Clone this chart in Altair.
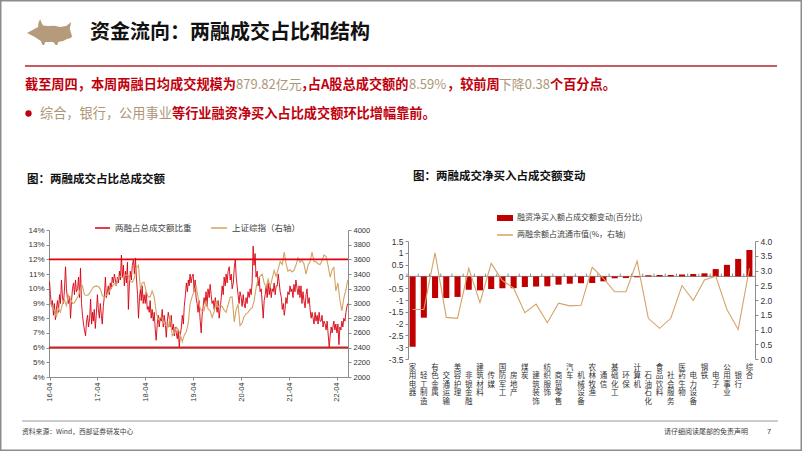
import altair as alt
import pandas as pd

# ---------------- 左图：两融占总成交额比重 (%)，每月4个读数 ----------------
red_2016 = [10.5, 9.6, 8.8, 9.2, 8.2, 9.0, 7.9, 8.6, 9.2, 8.4, 9.6, 9.0,
            10.6, 9.5, 9.0, 9.8, 11.5, 10.0, 9.3, 9.0, 9.5, 8.0, 9.2, 10.0,
            10.4, 9.6, 10.6, 9.8, 10.0, 10.8, 9.4, 11.4, 9.0, 8.2, 7.6, 7.2]
red_2017 = [6.8, 7.8, 8.2, 7.4, 8.0, 9.3, 7.6, 8.4, 7.8, 8.6, 7.3, 8.2,
            9.6, 8.6, 8.0, 9.0, 8.2, 7.6, 8.8, 9.4, 10.8, 9.4, 9.8, 10.2,
            9.6, 10.4, 10.0, 10.8, 10.4, 11.0, 10.6, 10.2, 10.8, 10.4, 11.2, 10.6,
            12.3, 10.8, 11.6, 10.2, 11.2, 10.4, 11.8, 8.6, 10.4, 11.2, 10.6, 11.6]
red_2018 = [12.0, 11.0, 12.1, 10.8, 9.6, 8.0, 9.4, 10.0, 9.2, 10.2, 9.0, 9.6,
            9.0, 9.8, 8.6, 8.8, 8.4, 9.2, 8.0, 8.6, 7.8, 8.4, 7.2, 6.5,
            7.6, 8.2, 7.4, 8.0, 7.8, 8.6, 7.4, 8.2, 7.6, 6.7, 7.8, 8.4,
            8.0, 7.4, 8.2, 7.2, 7.6, 6.8, 7.4, 7.0, 6.6, 7.2, 6.0, 6.8]
red_2019 = [7.4, 8.2, 7.6, 8.8, 9.6, 10.4, 9.8, 10.6, 10.2, 11.0, 10.4, 10.8,
            11.0, 9.8, 10.6, 9.4, 9.0, 8.4, 9.2, 8.0, 7.0, 8.2, 8.8, 9.4,
            9.0, 9.8, 8.8, 10.0, 9.4, 10.3, 9.6, 9.0, 9.2, 8.6, 9.4, 8.8,
            8.4, 9.2, 8.0, 8.6, 9.4, 10.2, 9.6, 10.8, 10.2, 11.0, 10.4, 11.2]
red_2020 = [11.5, 10.6, 11.0, 10.0, 10.4, 11.4, 12.0, 10.8, 10.2, 9.6, 9.0, 9.8,
            9.4, 8.8, 9.6, 9.0, 8.7, 9.4, 9.0, 9.8, 9.4, 10.0, 9.6, 10.4,
            12.9, 11.6, 12.4, 10.8, 11.2, 10.2, 10.8, 9.8, 10.0, 9.0, 8.0, 9.2,
            9.6, 10.2, 9.4, 10.4, 9.6, 10.2, 9.4, 10.0, 9.8, 10.4, 9.6, 10.2]
red_2021 = [10.2, 11.0, 10.4, 9.8, 9.4, 8.6, 9.0, 8.2, 8.6, 9.4, 9.0, 9.8,
            9.6, 10.2, 9.8, 10.0, 9.4, 10.3, 9.8, 10.6, 10.0, 9.6, 10.2, 9.4,
            10.2, 9.0, 9.8, 9.2, 8.7, 9.6, 10.0, 9.0, 9.4, 8.6, 8.0, 8.4,
            8.0, 7.6, 8.4, 7.8, 8.2, 7.6, 8.4, 7.8, 7.8, 8.2, 7.4, 7.8]
red_2022 = [7.6, 7.2, 7.8, 7.0, 6.0, 6.8, 7.4, 7.0, 7.4, 7.8, 7.2, 7.6,
            7.0, 7.6, 6.2, 7.4, 7.2, 7.8, 7.4, 8.0, 7.8, 8.4, 8.8, 9.0]

# 上证综指（右轴），每月2个读数
sse_2016 = [3010, 2950, 2910, 2810, 2930, 2880, 2990, 3050, 2970, 3110,
            3060, 3000, 3010, 3060, 3110, 3200, 3240, 3120]
sse_2017 = [3110, 3120, 3160, 3210, 3230, 3240, 3230, 3200, 3110, 3080, 3110, 3140,
            3190, 3230, 3270, 3250, 3360, 3370, 3350, 3380, 3390, 3380, 3300, 3290]
sse_2018 = [3350, 3480, 3520, 3190, 3280, 3290, 3160, 3090, 3090, 3170, 3090, 2880,
            2780, 2810, 2800, 2720, 2700, 2680, 2820, 2560, 2600, 2680, 2650, 2580]
sse_2019 = [2480, 2570, 2620, 2740, 2990, 3090, 3170, 3250, 3080, 2940, 2890, 2900,
            3040, 2930, 2900, 2810, 2890, 3030, 2950, 2980, 2960, 2910, 2880, 2980]
sse_2020 = [3085, 3090, 2750, 2920, 2990, 2700, 2735, 2820, 2860, 2880, 2920, 2940,
            3030, 3210, 3340, 3370, 3400, 3280, 3220, 3330, 3230, 3340, 3450, 3370]
sse_2021 = [3470, 3570, 3530, 3700, 3550, 3440, 3460, 3430, 3450, 3520, 3620, 3560,
            3590, 3540, 3400, 3520, 3570, 3700, 3570, 3570, 3540, 3530, 3580, 3660]
sse_2022 = [3640, 3520, 3360, 3460, 3490, 3170, 3280, 3050, 2900, 3070, 3190, 3320]

# ---------------- 右图：行业 ----------------
industries = ['家用电器', '轻工制造', '有色金属', '交通运输', '美容护理', '非银金融', '建筑材料',
              '传媒', '国防军工', '房地产', '煤炭', '建筑装饰', '纺织服饰', '商贸零售', '汽车',
              '机械设备', '农林牧渔', '通信', '基础化工', '环保', '计算机', '石油石化', '食品饮料',
              '社会服务', '医药生物', '电力设备', '钢铁', '电子', '公用事业', '银行', '综合']
net_buy_change = [-2.98, -1.75, -0.92, -0.91, -0.87, -0.57, -0.59, -0.53, -0.50, -0.50, -0.45,
                  -0.43, -0.42, -0.35, -0.31, -0.29, -0.28, -0.21, -0.08, -0.07, -0.04, 0.05,
                  0.06, 0.06, 0.08, 0.10, 0.13, 0.31, 0.49, 0.74, 1.12]
margin_to_mktcap = [1.68, 1.68, 3.60, 1.41, 1.38, 3.07, 1.91, 3.24, 2.66, 2.40, 1.57, 1.86,
                    1.23, 1.89, 1.80, 1.82, 3.11, 2.73, 2.28, 2.28, 3.32, 1.38, 1.04, 1.38,
                    2.49, 1.98, 2.68, 2.81, 1.68, 1.00, 3.07]

# ---------------- tables ----------------
red_share = red_2016 + red_2017 + red_2018 + red_2019 + red_2020 + red_2021 + red_2022
sse = sse_2016 + sse_2017 + sse_2018 + sse_2019 + sse_2020 + sse_2021 + sse_2022
months = pd.period_range('2016-04', '2022-06', freq='M')
red_dates = [pd.Timestamp(year=p.year, month=p.month, day=d) for p in months for d in (1, 8, 16, 23)]
sse_dates = [pd.Timestamp(year=p.year, month=p.month, day=d) for p in months for d in (8, 23)]
df_red = pd.DataFrame({'date': red_dates, 'share': [v / 100 for v in red_share]})
df_sse = pd.DataFrame({'date': sse_dates, 'sse': sse})
df_bar = pd.DataFrame({'industry': industries, 'chg': net_buy_change,
                       'ratio': margin_to_mktcap, 'idx': list(range(len(industries)))})
df_ref12 = pd.DataFrame({'level': [0.12]})
df_ref6 = pd.DataFrame({'level': [0.06]})
ONE = pd.DataFrame({'k': [0]})

# ---------------- style / layout ----------------
W, H = 802, 451
CJK = 'Noto Sans CJK SC'
NUM = 'Liberation Sans'
RED = '#d7000f'
TAN = '#d3a466'
BAR = '#c00000'
HRED = '#c0000c'
HTAN = '#ad9778'
GRAY = '#8c8c8c'
LAB = '#333333'

LX0, LX1, LYT, LYB = 49, 348, 230, 377
RX0, RX1, RYT, RYB = 408, 755, 241, 359

x_time = alt.Scale(domain=[alt.DateTime(year=2016, month=3, date=28),
                           alt.DateTime(year=2022, month=6, date=24)],
                   range=[LX0, LX1], nice=False)
y_share = alt.Scale(domain=[0.04, 0.14], range=[LYB, LYT], nice=False, zero=False)
y_sse = alt.Scale(domain=[2000, 4000], range=[LYB, LYT], nice=False, zero=False)
x_cat = alt.Scale(domain=industries, range=[RX0 - 1, RX1], paddingInner=0.46, paddingOuter=0.23)
y_chg = alt.Scale(domain=[-3.5, 1.5], range=[RYB, RYT], nice=False, zero=False)
y_ratio = alt.Scale(domain=[0, 4], range=[RYB, RYT], nice=False, zero=False)

axis_common = dict(grid=False, title=None, domainColor=GRAY, tickColor=GRAY, tickSize=3,
                   labelColor=LAB, labelFont=NUM, labelPadding=2)


def txt(s, x, y, size, color, bold=False, align='left', baseline='middle', font=CJK):
    return alt.Chart(ONE).mark_text(
        text=s, align=align, baseline=baseline, fontSize=size, font=font,
        fontWeight='bold' if bold else 'normal', color=color
    ).encode(x=alt.value(x), y=alt.value(y))


def hline(x1, x2, y, color, width):
    return alt.Chart(ONE).mark_rule(color=color, strokeWidth=width).encode(
        x=alt.value(x1), x2=alt.value(x2), y=alt.value(y))


# ---------------- left chart ----------------
red_line = alt.Chart(df_red).mark_line(color=RED, strokeWidth=0.9).encode(
    x=alt.X('date:T', scale=x_time,
            axis=alt.Axis(orient='bottom', offset=LYB - H, format='%y-%m', labelAngle=-90,
                          values=[alt.DateTime(year=y, month=4, date=1) for y in range(2016, 2023)],
                          labelFontSize=7.5, **axis_common)),
    y=alt.Y('share:Q', scale=y_share,
            axis=alt.Axis(orient='left', offset=-LX0, format='.0%',
                          values=[v / 100 for v in range(4, 15)], labelFontSize=8, **axis_common)),
)
tan_line = alt.Chart(df_sse).mark_line(color=TAN, strokeWidth=1.1).encode(
    x=alt.X('date:T', scale=x_time, axis=None),
    y=alt.Y('sse:Q', scale=y_sse,
            axis=alt.Axis(orient='right', offset=LX1 - W, format='d',
                          values=list(range(2000, 4001, 200)), labelFontSize=7.5, **axis_common)),
)
ref12 = alt.Chart(df_ref12).mark_rule(color='#e3000f', strokeWidth=1.6).encode(
    y=alt.Y('level:Q', scale=y_share, axis=None), x=alt.value(LX0), x2=alt.value(LX1))
ref6 = alt.Chart(df_ref6).mark_rule(color='#c0282d', strokeWidth=2.4).encode(
    y=alt.Y('level:Q', scale=y_share, axis=None), x=alt.value(LX0), x2=alt.value(LX1))

# ---------------- right chart ----------------
stack_expr = "split((round(datum.index*30)%2==1 ? '\u3000' : '') + datum.label, '')"
bars = alt.Chart(df_bar).mark_bar(color=BAR).encode(
    x=alt.X('industry:N', scale=x_cat, sort=None,
            axis=alt.Axis(orient='bottom', offset=RYB - H, domain=False, ticks=False, labelAngle=0,
                          labelExpr=stack_expr, labelBaseline='top', labelAlign='center',
                          labelPadding=4, labelFontSize=7.5, labelLineHeight=8.6, labelFont=CJK,
                          labelColor=LAB, labelOverlap=False, grid=False, title=None)),
    y=alt.Y('chg:Q', scale=y_chg,
            axis=alt.Axis(orient='left', offset=-RX0, labelExpr="datum.value + ''",
                          values=[-3.5, -3, -2.5, -2, -1.5, -1, -0.5, 0, 0.5, 1, 1.5],
                          labelFontSize=8.5, **axis_common)),
)
zero_rule = alt.Chart(ONE).mark_rule(color=GRAY, strokeWidth=1).encode(
    y=alt.YDatum(0, scale=y_chg, axis=None), x=alt.value(RX0), x2=alt.value(RX1))
cat_ticks = alt.Chart(df_bar).mark_rule(color=GRAY, strokeWidth=1, xOffset=-5.6).encode(
    x=alt.X('industry:N', scale=x_cat, sort=None, axis=None),
    y=alt.YDatum(0, scale=y_chg, axis=None), y2=alt.Y2Datum(0.12))
ratio_line = alt.Chart(df_bar).mark_line(color=TAN, strokeWidth=1.1).encode(
    x=alt.X('industry:N', scale=x_cat, sort=None, axis=None),
    y=alt.Y('ratio:Q', scale=y_ratio,
            axis=alt.Axis(orient='right', offset=RX1 - W, format='.1f',
                          values=[0, 0.5, 1, 1.5, 2, 2.5, 3, 3.5, 4], labelFontSize=8.5,
                          **axis_common)),
    order='idx:Q',
)

# ---------------- header / decorations ----------------
BULL = ("M -1 0.04 L -0.7 -0.12 L -0.52 -0.22 L -0.5 -0.4 L -0.43 -0.55 L -0.36 -0.38 "
        "L -0.3 -0.28 L -0.09 -0.26 L 0.2 -0.27 L 0.43 -0.22 L 0.7 -0.26 L 0.92 -0.42 "
        "L 0.86 -0.14 L 0.96 0.2 L 0.9 0.26 L 0.74 0.3 L 0.57 0.39 L 0.36 0.43 L 0.32 0.56 "
        "L 0.25 0.56 L 0.14 0.43 L -0.2 0.43 L -0.26 0.56 L -0.33 0.56 L -0.4 0.39 "
        "L -0.66 0.22 Z")
logo = alt.Chart(ONE).mark_point(shape=BULL, filled=True, size=46 * 46, color='#b59b7b',
                                 opacity=1, strokeWidth=0).encode(x=alt.value(50), y=alt.value(32))
bullet = alt.Chart(ONE).mark_point(shape='circle', filled=True, size=40, color=HRED,
                                   opacity=1).encode(x=alt.value(28.5), y=alt.value(113.5))

texts = [
    txt('资金流向：两融成交占比和结构', 90, 33, 20, '#111111', bold=True),
    txt('截至周四，本周两融日均成交规模为', 25, 85, 13.2, HRED, bold=True),
    txt('879.82亿元', 236, 85, 13, HTAN),
    txt('，', 301, 85, 13.2, HRED, bold=True),
    txt('占A股总成交额的', 408.5, 85, 13.2, HRED, bold=True, align='right'),
    txt('8.59%', 409, 85, 13, HTAN),
    txt('，较前周', 447, 85, 13.2, HRED, bold=True),
    txt('下降0.38', 550, 85, 13, HTAN, align='right'),
    txt('个百分点。', 550, 85, 13.2, HRED, bold=True),
    txt('综合，银行，公用事业', 40, 114, 13.2, HTAN),
    txt('等行业融资净买入占比成交额环比增幅靠前。', 172, 114, 13.2, HRED, bold=True),
    txt('图：两融成交占比总成交额', 27, 180, 11.5, '#111111', bold=True),
    txt('图：两融成交净买入占成交额变动', 413, 177, 11.5, '#111111', bold=True),
    txt('两融占总成交额比重', 115, 228, 8.5, '#404040'),
    txt('上证综指（右轴）', 232, 228, 8.5, '#404040'),
    txt('融资净买入额占成交额变动(百分比)', 517, 218, 8, '#404040'),
    txt('两融余额占流通市值(%，右轴)', 517, 235, 8, '#404040'),
    txt('资料来源：Wind，西部证券研发中心', 22, 432, 6.8, '#404040'),
    txt('请仔细阅读尾部的免责声明', 748, 432, 7, '#404040', align='right'),
    txt('7', 767, 432, 7.5, '#404040', font=NUM),
]

legend_marks = [
    hline(95, 110, 228, RED, 1.5),
    hline(211, 227, 228, TAN, 1.5),
    alt.Chart(ONE).mark_rect(color=BAR).encode(x=alt.value(497), x2=alt.value(513),
                                               y=alt.value(215), y2=alt.value(221)),
    hline(497, 513, 235, TAN, 1.5),
    hline(25, 777, 66, '#c45a62', 2),
    hline(22, 778, 421, '#9a9a9a', 1),
]

chart = alt.layer(
    red_line, tan_line, ref12, ref6,
    zero_rule, cat_ticks, bars, ratio_line,
    logo, bullet, *legend_marks, *texts
).resolve_scale(x='independent', y='independent').resolve_axis(
    x='independent', y='independent'
).properties(
    width=W, height=H, padding=0, autosize=alt.AutoSizeParams(type='none'), background='white'
).configure_view(stroke='#8c8c8c', strokeWidth=3)

chart.save('out.html', embed_options={'renderer': 'svg', 'actions': False})
